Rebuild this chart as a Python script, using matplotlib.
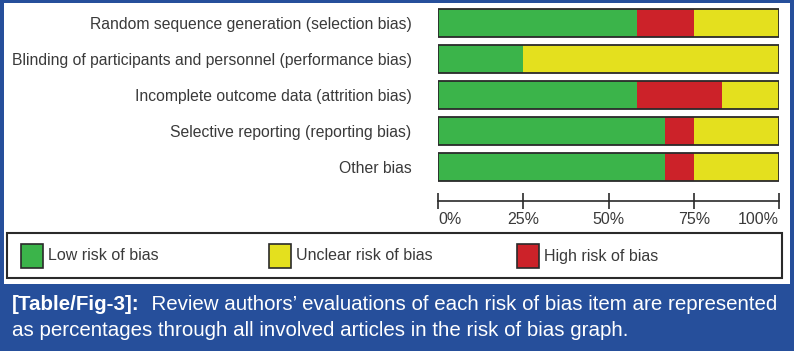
import matplotlib.pyplot as plt
from matplotlib.patches import Rectangle

# ── data --------------------------------------------------------------------- #
domains = ["Random sequence generation (selection bias)",
           "Blinding of participants and personnel (performance bias)",
           "Incomplete outcome data (attrition bias)",
           "Selective reporting (reporting bias)",
           "Other bias"]
low     = [58.3, 25.0, 58.3, 66.7, 66.7]
high    = [16.7,  0.0, 25.0,  8.3,  8.3]
unclear = [25.0, 75.0, 16.7, 25.0, 25.0]
ticks   = [0, 25, 50, 75, 100]
tick_labels = ["0%", "25%", "50%", "75%", "100%"]
legend_names = ["Low risk of bias", "Unclear risk of bias", "High risk of bias"]
caption_bold = "[Table/Fig-3]:"
caption_1 = "  Review authors\u2019 evaluations of each risk of bias item are represented"
caption_2 = "as percentages through all involved articles in the risk of bias graph."

GREEN, YELLOW, RED = "#3bb44a", "#e4e01e", "#cc2229"
BLUE = "#264f9b"
DARK = "#2a2a2a"
TXT = "#3a3a3a"

plt.rcParams["font.family"] = ["Liberation Sans", "DejaVu Sans"]

W, H = 794, 351
fig = plt.figure(figsize=(W / 100, H / 100), dpi=100)
fig.patch.set_facecolor(BLUE)

def fx(x): return x / W
def fy(y): return 1 - y / H

# white panel inside the blue frame
fig.add_artist(Rectangle((fx(4), fy(284)), fx(786), 281 / H,
                         transform=fig.transFigure, facecolor="white",
                         edgecolor="none", zorder=0))

# ── risk of bias bars ------------------------------------------------------- #
ax = fig.add_axes([fx(438), fy(200.7), 341 / W, (200.7 - 5) / H])
ax.set_facecolor("none")
y = list(range(len(domains)))
left2 = [a + b for a, b in zip(low, high)]
ax.barh(y, low, height=0.76, color=GREEN, edgecolor="none")
ax.barh(y, high, left=low, height=0.76, color=RED, edgecolor="none")
ax.barh(y, unclear, left=left2, height=0.76, color=YELLOW, edgecolor="none")
tot = [a + b + c for a, b, c in zip(low, high, unclear)]
ax.barh(y, tot, height=0.76, fill=False, edgecolor=DARK, linewidth=1.3)

ax.set_xlim(0, 100)
ax.set_ylim(4.936, -0.5)
for s in ["top", "right", "left"]:
    ax.spines[s].set_visible(False)
ax.spines["bottom"].set_color(DARK)
ax.spines["bottom"].set_linewidth(1.2)

ax.set_xticks(ticks)
ax.set_xticklabels(tick_labels, fontsize=11.5, color=TXT)
ax.tick_params(axis="x", direction="inout", length=12, width=1.2, color=DARK, pad=2)
xl = ax.get_xticklabels()
xl[0].set_ha("left")
xl[-1].set_ha("right")

ax.set_yticks(y)
ax.set_yticklabels(domains, fontsize=11.3, color=TXT)
ax.tick_params(axis="y", length=0, pad=19)

# ── legend box -------------------------------------------------------------- #
fig.add_artist(Rectangle((fx(7), fy(278)), fx(775), 45.5 / H,
                         transform=fig.transFigure, facecolor="white",
                         edgecolor=DARK, linewidth=1.5, zorder=1))
sq_x = [21, 269, 517]
for name, col, x0 in zip(legend_names, [GREEN, YELLOW, RED], sq_x):
    fig.add_artist(Rectangle((fx(x0), fy(268)), fx(22), 24 / H,
                             transform=fig.transFigure, facecolor=col,
                             edgecolor=DARK, linewidth=1.2, zorder=2))
    fig.text(fx(x0 + 27), fy(256), name, fontsize=11.5, color=TXT,
             va="center", ha="left", zorder=3)

# ── caption ----------------------------------------------------------------- #
cap_fs = 14.8
tb = fig.text(fx(12), fy(305), caption_bold, fontsize=cap_fs, color="white",
              fontweight="bold", va="center", ha="left")
fig.canvas.draw()
r = fig.canvas.get_renderer()
bb = tb.get_window_extent(r)
fig.text(bb.x1 / W, fy(305), caption_1, fontsize=cap_fs, color="white",
         va="center", ha="left")
fig.text(fx(12), fy(330), caption_2, fontsize=cap_fs, color="white",
         va="center", ha="left")

fig.savefig("out.png", dpi=100, facecolor=fig.get_facecolor())
